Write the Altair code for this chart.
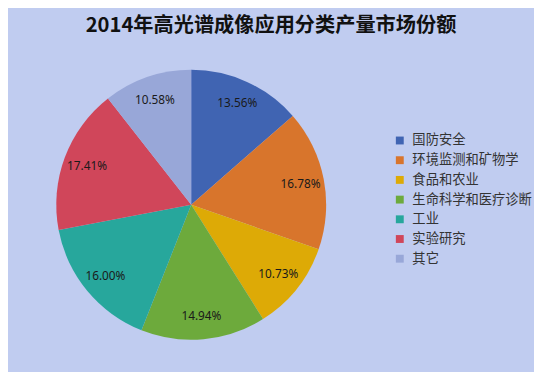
import altair as alt
import pandas as pd

categories = ["国防安全", "环境监测和矿物学", "食品和农业", "生命科学和医疗诊断", "工业", "实验研究", "其它"]
shares = [13.56, 16.78, 10.73, 14.94, 16.00, 17.41, 10.58]
labels = ["13.56%", "16.78%", "10.73%", "14.94%", "16.00%", "17.41%", "10.58%"]
colors = ["#4064b2", "#d8752c", "#ddaa06", "#6daa3c", "#27a79c", "#d0465a", "#98a7d8"]

df = pd.DataFrame({"cat": categories, "share": shares, "label": labels, "idx": list(range(len(categories)))})

TOP = 29
W, H = 534, 364 - TOP
CX, CY = 186, 197 - TOP

base = alt.Chart(df).encode(
    theta=alt.Theta("share:Q", stack=True),
    order=alt.Order("idx:Q"),
)

pie = base.mark_arc(outerRadius=137, stroke=None).encode(
    x=alt.value(CX), y=alt.value(CY),
    color=alt.Color(
        "cat:N",
        sort=categories,
        scale=alt.Scale(domain=categories, range=colors),
        legend=alt.Legend(
            title=None, orient="none", legendX=391, legendY=96,
            symbolType="square", symbolSize=64, symbolStrokeWidth=0,
            labelFont="Noto Sans CJK SC", labelFontSize=13.5, labelColor="#333333",
            labelLimit=300, rowPadding=5, labelOffset=6, padding=0,
        ),
    ),
)

text = base.mark_text(radius=113, font="Noto Sans", fontSize=12, color="#1a1a1a").encode(
    x=alt.value(CX), y=alt.value(CY),
    text="label:N",
)

chart = alt.layer(pie, text).properties(
    width=W, height=H,
    title=alt.TitleParams(
        "2014年高光谱成像应用分类产量市场份额",
        font="Noto Sans CJK SC", fontSize=20.5, fontWeight="bold", color="#111111",
        anchor="middle", offset=3,
    ),
    autosize=alt.AutoSizeParams(type="none"),
    padding={"left": 0, "right": 0, "top": TOP, "bottom": 0},
    background="#c0ccf0",
).configure_view(stroke=None)

chart.save("out.html", embed_options={"renderer": "svg", "actions": False})
